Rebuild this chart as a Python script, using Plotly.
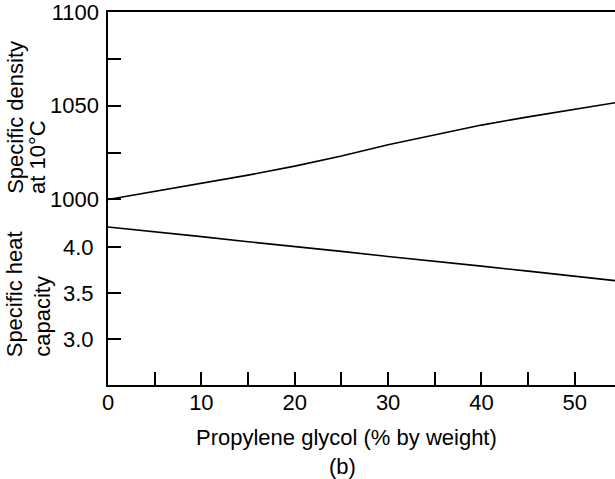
import plotly.graph_objects as go

# propylene glycol content (% by weight)
pct = [0, 5, 10, 15, 20, 25, 30, 35, 40, 45, 50, 55]
# specific density at 10 C
density = [1000, 1004.3, 1008.6, 1013.0, 1017.8, 1023.2, 1029.2, 1034.6, 1039.7, 1044.1, 1048.3, 1052.2]
# specific heat capacity
heat = [4.22, 4.17, 4.115, 4.06, 4.01, 3.955, 3.90, 3.85, 3.795, 3.74, 3.685, 3.63]

x_ticks = [0, 5, 10, 15, 20, 25, 30, 35, 40, 45, 50]
x_labels = ['0', '', '10', '', '20', '', '30', '', '40', '', '50']
dens_ticks = [1000, 1025, 1050, 1075, 1100]
dens_labels = ['1000', '', '1050', '', '1100']
heat_ticks = [3.0, 3.5, 4.0]
heat_labels = ['3.0', '3.5', '4.0']

FONT = 'Liberation Sans, Arial, sans-serif'

fig = go.Figure()
fig.add_trace(go.Scatter(x=pct, y=heat, mode='lines', yaxis='y',
                         line=dict(color='black', width=1.6), showlegend=False))
fig.add_trace(go.Scatter(x=pct, y=density, mode='lines', yaxis='y2',
                         line=dict(color='black', width=1.6), showlegend=False))

fig.update_layout(
    width=615, height=479,
    margin=dict(l=108, r=0, t=10, b=94),
    paper_bgcolor='white', plot_bgcolor='white',
    font=dict(family=FONT, size=22, color='black'),
    xaxis=dict(range=[0, 54.3], tickvals=x_ticks, ticktext=x_labels,
               ticks='inside', ticklen=13, tickwidth=1.6, tickcolor='black',
               ticklabelstandoff=-3,
               showline=True, linecolor='black', linewidth=2, mirror=True,
               showgrid=False, zeroline=False),
    yaxis=dict(range=[2.503, 6.556], tickvals=heat_ticks, ticktext=heat_labels,
               ticks='inside', ticklen=13, tickwidth=1.6, tickcolor='black',
               ticklabelstandoff=8,
               showline=True, linecolor='black', linewidth=2,
               showgrid=False, zeroline=False),
    yaxis2=dict(range=[901.0, 1100.05], tickvals=dens_ticks, ticktext=dens_labels,
                overlaying='y', side='left',
                ticks='inside', ticklen=13, tickwidth=1.6, tickcolor='black',
                ticklabelstandoff=8, ticklabeloverflow='allow',
                showline=False, showgrid=False, zeroline=False),
)

# rotated axis titles, one annotation per line (tighter line spacing than <br>)
for txt, xp, yp in [('Specific density', -0.1826, 0.507),
                    ('at 10°C', -0.138, 0.507),
                    ('Specific heat', -0.1846, 0.07),
                    ('capacity', -0.1294, 0.07)]:
    fig.add_annotation(text=txt, textangle=-90, xref='paper', yref='paper',
                       x=xp, y=yp, xanchor='center', yanchor='bottom', showarrow=False)

fig.add_annotation(text='Propylene glycol (% by weight)', xref='paper', yref='paper',
                   x=0.471, y=-0.141, xanchor='center', yanchor='middle', showarrow=False)
fig.add_annotation(text='(b)', xref='paper', yref='paper',
                   x=0.462, y=-0.219, xanchor='center', yanchor='middle', showarrow=False)

# drop the default page margin so the figure fills the window exactly
fig.write_html("out.html", config={'displayModeBar': False},
               post_script="document.body.style.margin='0';")
